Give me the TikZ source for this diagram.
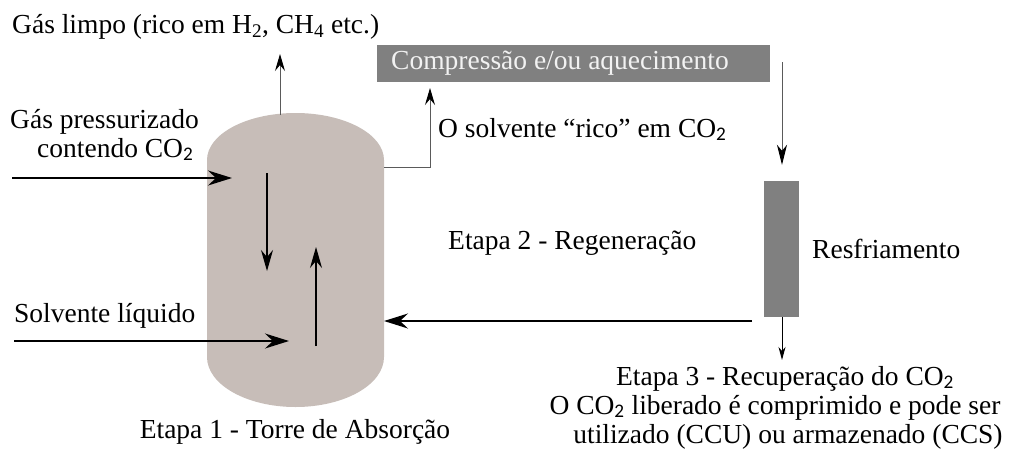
\documentclass[tikz,border=0pt]{standalone}
\usepackage{fontspec}
\setmainfont{Liberation Serif}
\newfontfamily\carl{Carlito}
\usetikzlibrary{arrows.meta}
\definecolor{towercol}{HTML}{C7BDB8}
\definecolor{boxgray}{HTML}{808080}
\definecolor{linegray}{HTML}{5A5A5A}
\definecolor{boxtext}{HTML}{F2F2F2}
\newcommand\cotwo{CO\textsubscript{\carl 2}}
\begin{document}
\begin{tikzpicture}[x=1pt,y=-1pt,
  font=\fontsize{27.5}{30}\selectfont,
  lbl/.style={anchor=base west,inner sep=0pt},
  bigarrow/.style={line width=1.3pt,-{Stealth[length=24pt,width=15pt,inset=8pt]}},
  midarrow/.style={line width=1.2pt,-{Stealth[length=21pt,width=12pt,inset=7pt]}},
  greyline/.style={line width=1pt,draw=linegray,-{Stealth[length=17pt,width=10pt,inset=6pt,color=black]}},
  smallarrow/.style={line width=1pt,-{Stealth[length=13pt,width=7pt,inset=4pt]}},
  blockbox/.style={fill=boxgray,inner sep=0pt}]
\useasboundingbox (0,0) rectangle (1012,456);

% absorption tower
\fill[towercol] (207,160) arc[start angle=180,end angle=0,x radius=88.5pt,y radius=47pt]
  -- (384,357) arc[start angle=0,end angle=-180,x radius=88.5pt,y radius=50pt] -- cycle;
\coordinate (towtop) at (280,115);
\coordinate (towright) at (384,167);
\coordinate (towreturn) at (384,321);
\coordinate (gasin) at (232,178);
\coordinate (solvin) at (289,341);
\coordinate (downA) at (267,173);
\coordinate (downB) at (267,271);
\coordinate (upA) at (316,346);
\coordinate (upB) at (316,247);

% blocks
\node[blockbox,minimum width=393pt,minimum height=37pt] (comp) at (573.5,63.5) {};
\node[lbl,text=boxtext] (comptext) at (391,69) {Compressão e/ou aquecimento};
\node[blockbox,minimum width=35pt,minimum height=136pt] (cool) at (781.5,249) {};

% texts
\node[lbl] (clean) at (12,33) {Gás limpo (rico em H\textsubscript{2}, CH\textsubscript{4} etc.)};
\node[lbl] (gas1) at (10,128) {Gás pressurizado};
\node[lbl] (gas2) at (37,157) {contendo \cotwo};
\node[lbl] (solv) at (14,322) {Solvente líquido};
\node[lbl] (rich) at (438,137) {O solvente “rico” em \cotwo};
\node[lbl] (etapa2) at (448,249) {Etapa 2 - Regeneração};
\node[lbl] (resf) at (812,258) {Resfriamento};
\node[anchor=base,inner sep=0pt] (etapa1) at (295,438) {Etapa 1 - Torre de Absorção};
\node[anchor=base,inner sep=0pt] (etapa3) at (785,385) {Etapa 3 - Recuperação do \cotwo};
\node[anchor=base,inner sep=0pt] (rec1) at (775,414) {O \cotwo{} liberado é comprimido e pode ser};
\node[anchor=base,inner sep=0pt] (rec2) at (788,443) {utilizado (CCU) ou armazenado (CCS)};

% free ends
\coordinate (cleanend) at (280,54);
\coordinate (richend) at (430,88);
\coordinate (gasstart) at (12,178);
\coordinate (solvstart) at (14,341);
\coordinate (compout) at (782,62);
\coordinate (coolend) at (782,360);
\coordinate (retstart) at (752,321);

% connectors
\draw[greyline] (towtop) -- (cleanend);
\draw[greyline] (towright) -| (richend);
\draw[greyline,-{Stealth[length=20pt,width=10pt,inset=6pt,color=black]}] (compout) -- ([yshift=16pt]cool.north -| compout);
\draw[smallarrow] (cool.south -| coolend) -- (coolend);
\draw[bigarrow] (gasstart) -- (gasin);
\draw[bigarrow] (solvstart) -- (solvin);
\draw[bigarrow] (retstart) -- (towreturn);
\draw[midarrow] (downA) -- (downB);
\draw[midarrow] (upA) -- (upB);
\end{tikzpicture}
\end{document}
